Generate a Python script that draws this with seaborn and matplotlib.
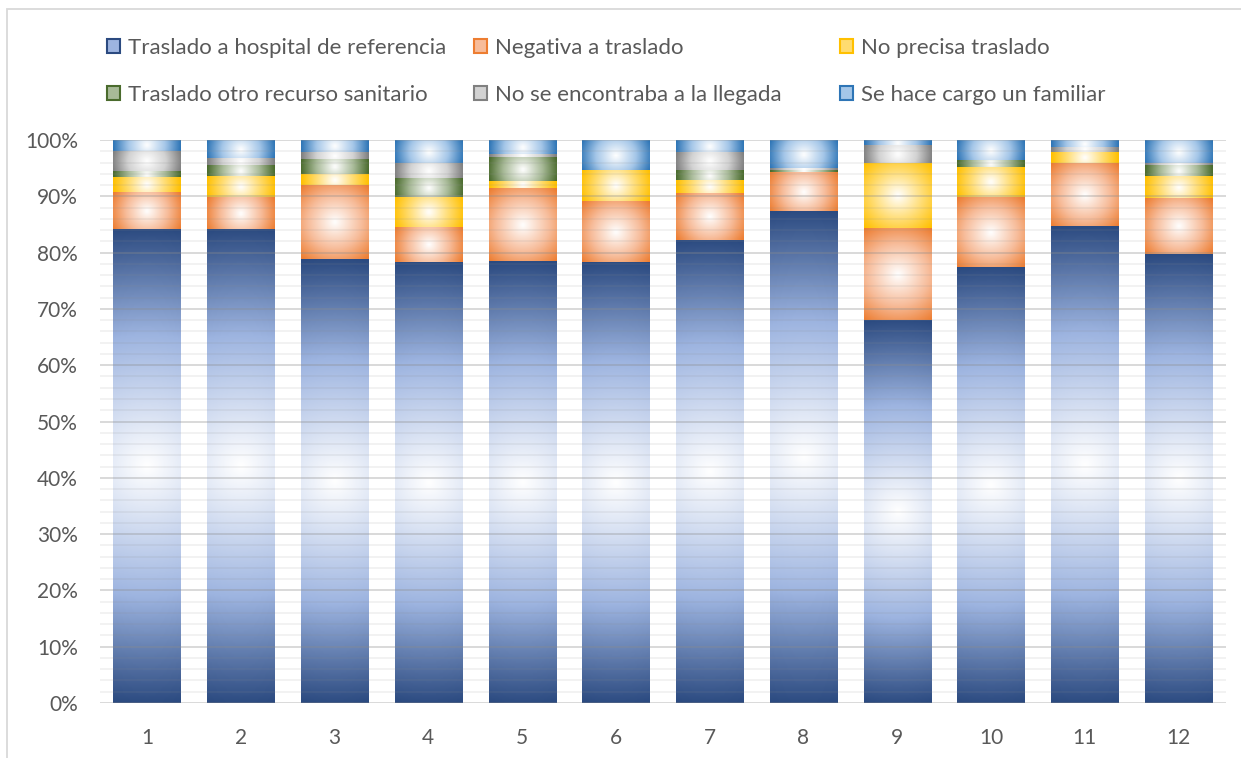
import numpy as np
import pandas as pd
import matplotlib
matplotlib.use("Agg")
import matplotlib.pyplot as plt
import seaborn as sns
from matplotlib.colors import LinearSegmentedColormap
from matplotlib.patches import Patch, Rectangle
from matplotlib.ticker import MultipleLocator, PercentFormatter

# valores (% por mes)
meses = [str(i) for i in range(1, 13)]
hospital = [84.1, 84.1, 78.8, 78.3, 78.4, 78.2, 82.2, 87.3, 67.9, 77.3, 84.6, 79.7]
negativa = [6.6, 5.7, 13.1, 6.2, 13.0, 10.9, 8.3, 7.1, 16.5, 12.6, 11.3, 9.8]
no_precisa = [2.6, 3.7, 2.1, 5.2, 1.2, 5.4, 2.3, 0.0, 11.5, 5.3, 1.9, 4.0]
otro_recurso = [1.2, 2.0, 2.5, 3.4, 4.3, 0.0, 1.8, 0.3, 0.0, 1.1, 0.0, 2.0]
no_encontraba = [3.5, 1.2, 1.4, 2.7, 0.5, 0.0, 3.1, 0.2, 3.1, 0.0, 0.8, 0.3]
familiar = [2.0, 3.3, 2.1, 4.2, 2.6, 5.5, 2.3, 5.1, 1.0, 3.7, 1.4, 4.2]

series = ["Traslado a hospital de referencia", "Negativa a traslado", "No precisa traslado",
          "Traslado otro recurso sanitario", "No se encontraba a la llegada", "Se hace cargo un familiar"]
# (borde, tono medio)
colores = {
    series[0]: ("#2B4A80", "#9DB4E0"),
    series[1]: ("#ED7D31", "#F7BC9A"),
    series[2]: ("#FFC000", "#FFDC70"),
    series[3]: ("#4A6B2D", "#A8BA98"),
    series[4]: ("#808080", "#D2D2D2"),
    series[5]: ("#2E75B6", "#A4C6E8"),
}

df = pd.DataFrame({"mes": meses, series[0]: hospital, series[1]: negativa, series[2]: no_precisa,
                   series[3]: otro_recurso, series[4]: no_encontraba, series[5]: familiar})
cum = df[series].cumsum(axis=1)
bottoms = cum.shift(1, axis=1, fill_value=0)

W, H = 1241, 758
sns.set_theme(style="white")
plt.rcParams["font.family"] = ["Lato", "DejaVu Sans"]
texto = "#595959"

fig, ax = plt.subplots(figsize=(W / 100, H / 100), dpi=100)
fig.subplots_adjust(left=100 / W, right=1225.5 / W, bottom=(H - 703) / H, top=(H - 140) / H)

bar_w = 0.715
orden = list(reversed(series))
for name in orden:
    sns.barplot(x=df["mes"], y=cum[name], color=colores[name][0], width=bar_w, ax=ax, zorder=1)


def radial(w_px, h_px):
    u = np.linspace(-1, 1, 48)
    v = np.linspace(-1, 1, max(int(h_px / 2), 8))
    U, V = np.meshgrid(u, v)
    hw, hh = w_px / 2, h_px / 2
    return np.sqrt((U * hw) ** 2 + (V * hh) ** 2) / np.hypot(hw, hh)


px_x = 1125.5 / 12
px_y = 563 / 100
for name, cont in zip(orden, ax.containers):
    cmap = LinearSegmentedColormap.from_list(name, [(0, "white"), (0.55, colores[name][1]), (1, colores[name][0])])
    for i, bar in enumerate(cont):
        bar.set_visible(False)
        lo, hi = bottoms[name].iloc[i], cum[name].iloc[i]
        if hi - lo <= 0:
            continue
        x0, w = bar.get_x(), bar.get_width()
        ax.imshow(radial(w * px_x, (hi - lo) * px_y), extent=(x0, x0 + w, lo, hi), aspect="auto",
                  cmap=cmap, vmin=0, vmax=1, zorder=2, interpolation="bilinear")

ax.set_xlim(-0.5, 11.5)
ax.set_ylim(0, 100)
ax.yaxis.set_major_locator(MultipleLocator(10))
ax.yaxis.set_minor_locator(MultipleLocator(2))
ax.yaxis.set_major_formatter(PercentFormatter(100, decimals=0))
ax.set_axisbelow(False)
ax.grid(which="major", axis="y", color="0.55", alpha=0.35, lw=1.3)
ax.grid(which="minor", axis="y", color="0.55", alpha=0.12, lw=1.3)
ax.grid(axis="x", visible=False)
ax.tick_params(which="both", length=0)
ax.tick_params(axis="y", pad=16, labelsize=15, labelcolor=texto)
ax.tick_params(axis="x", pad=18, labelsize=15, labelcolor=texto)
ax.set_xlabel("")
ax.set_ylabel("")
sns.despine(ax=ax, left=True, bottom=True)

# leyenda en tres columnas
for col in range(3):
    handles = [Patch(facecolor=colores[n][1], edgecolor=colores[n][0], lw=1.5, label=n)
               for n in (series[col], series[col + 3])]
    leg = fig.legend(handles=handles, loc="upper left", bbox_to_anchor=((107 + col * 366.5) / W, 1 - 38 / H),
                     frameon=False, fontsize=16, handlelength=0.6, handleheight=0.6, handletextpad=0.35,
                     labelspacing=1.22, borderpad=0, borderaxespad=0)
    for t in leg.get_texts():
        t.set_color(texto)

fig.patches.append(Rectangle((7 / W, -0.1), 1.2, 1.1 - 9 / H, transform=fig.transFigure,
                             fill=False, edgecolor="#D9D9D9", lw=1.3))

fig.savefig("out.png", dpi=100, facecolor="white")
